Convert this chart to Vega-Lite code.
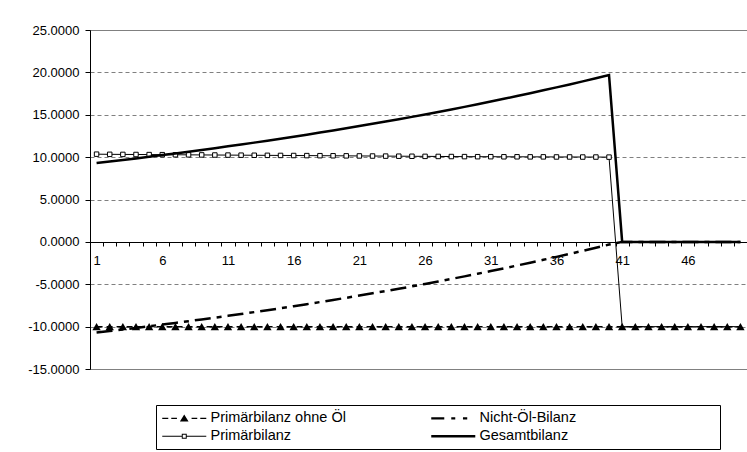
{
  "$schema": "https://vega.github.io/schema/vega-lite/v6.json",
  "width": 657,
  "height": 339,
  "autosize": "none",
  "padding": {"left": 90, "top": 30, "right": 0, "bottom": 83},
  "background": "white",
  "config": {
    "view": {"stroke": "#808080", "strokeWidth": 1},
    "font": "Liberation Sans"
  },
  "data": {
    "values": [
      {"t": 1, "a": -10, "b": -10.70, "c": 10.35, "d": 9.30},
      {"t": 2, "a": -10, "b": -10.52, "c": 10.33, "d": 9.48},
      {"t": 3, "a": -10, "b": -10.34, "c": 10.32, "d": 9.66},
      {"t": 4, "a": -10, "b": -10.15, "c": 10.31, "d": 9.85},
      {"t": 5, "a": -10, "b": -9.96, "c": 10.30, "d": 10.04},
      {"t": 6, "a": -10, "b": -9.76, "c": 10.29, "d": 10.24},
      {"t": 7, "a": -10, "b": -9.56, "c": 10.28, "d": 10.44},
      {"t": 8, "a": -10, "b": -9.36, "c": 10.27, "d": 10.64},
      {"t": 9, "a": -10, "b": -9.15, "c": 10.26, "d": 10.85},
      {"t": 10, "a": -10, "b": -8.94, "c": 10.25, "d": 11.06},
      {"t": 11, "a": -10, "b": -8.73, "c": 10.24, "d": 11.27},
      {"t": 12, "a": -10, "b": -8.51, "c": 10.23, "d": 11.49},
      {"t": 13, "a": -10, "b": -8.29, "c": 10.22, "d": 11.71},
      {"t": 14, "a": -10, "b": -8.06, "c": 10.21, "d": 11.94},
      {"t": 15, "a": -10, "b": -7.83, "c": 10.20, "d": 12.17},
      {"t": 16, "a": -10, "b": -7.59, "c": 10.19, "d": 12.41},
      {"t": 17, "a": -10, "b": -7.35, "c": 10.18, "d": 12.65},
      {"t": 18, "a": -10, "b": -7.10, "c": 10.17, "d": 12.90},
      {"t": 19, "a": -10, "b": -6.85, "c": 10.16, "d": 13.15},
      {"t": 20, "a": -10, "b": -6.60, "c": 10.15, "d": 13.40},
      {"t": 21, "a": -10, "b": -6.34, "c": 10.14, "d": 13.66},
      {"t": 22, "a": -10, "b": -6.07, "c": 10.13, "d": 13.93},
      {"t": 23, "a": -10, "b": -5.80, "c": 10.12, "d": 14.20},
      {"t": 24, "a": -10, "b": -5.53, "c": 10.11, "d": 14.47},
      {"t": 25, "a": -10, "b": -5.25, "c": 10.10, "d": 14.75},
      {"t": 26, "a": -10, "b": -4.96, "c": 10.09, "d": 15.04},
      {"t": 27, "a": -10, "b": -4.67, "c": 10.08, "d": 15.33},
      {"t": 28, "a": -10, "b": -4.37, "c": 10.07, "d": 15.63},
      {"t": 29, "a": -10, "b": -4.07, "c": 10.06, "d": 15.93},
      {"t": 30, "a": -10, "b": -3.76, "c": 10.05, "d": 16.24},
      {"t": 31, "a": -10, "b": -3.44, "c": 10.05, "d": 16.56},
      {"t": 32, "a": -10, "b": -3.12, "c": 10.04, "d": 16.88},
      {"t": 33, "a": -10, "b": -2.79, "c": 10.04, "d": 17.21},
      {"t": 34, "a": -10, "b": -2.46, "c": 10.03, "d": 17.54},
      {"t": 35, "a": -10, "b": -2.12, "c": 10.03, "d": 17.88},
      {"t": 36, "a": -10, "b": -1.77, "c": 10.02, "d": 18.23},
      {"t": 37, "a": -10, "b": -1.42, "c": 10.02, "d": 18.58},
      {"t": 38, "a": -10, "b": -1.06, "c": 10.01, "d": 18.94},
      {"t": 39, "a": -10, "b": -0.69, "c": 10.01, "d": 19.31},
      {"t": 40, "a": -10, "b": -0.32, "c": 10.00, "d": 19.68},
      {"t": 41, "a": -10, "b": 0, "c": -10, "d": 0},
      {"t": 42, "a": -10, "b": 0, "c": -10, "d": 0},
      {"t": 43, "a": -10, "b": 0, "c": -10, "d": 0},
      {"t": 44, "a": -10, "b": 0, "c": -10, "d": 0},
      {"t": 45, "a": -10, "b": 0, "c": -10, "d": 0},
      {"t": 46, "a": -10, "b": 0, "c": -10, "d": 0},
      {"t": 47, "a": -10, "b": 0, "c": -10, "d": 0},
      {"t": 48, "a": -10, "b": 0, "c": -10, "d": 0},
      {"t": 49, "a": -10, "b": 0, "c": -10, "d": 0},
      {"t": 50, "a": -10, "b": 0, "c": -10, "d": 0}
    ]
  },
  "encoding": {
    "x": {
      "field": "t",
      "type": "quantitative",
      "scale": {"domain": [0.5, 50.5], "nice": false, "zero": false},
      "axis": {
        "title": null,
        "values": [1,2,3,4,5,6,7,8,9,10,11,12,13,14,15,16,17,18,19,20,21,22,23,24,25,26,27,28,29,30,31,32,33,34,35,36,37,38,39,40,41,42,43,44,45,46,47,48,49,50],
        "offset": -127,
        "tickOffset": -6.57,
        "labelOffset": 6.57,
        "labelExpr": "(datum.value - 1) % 5 == 0 ? datum.label : ''",
        "format": "d",
        "tickSize": 4,
        "tickColor": "black",
        "domainColor": "black",
        "labelColor": "black",
        "labelFont": "Liberation Sans",
        "labelFontSize": 13,
        "labelPadding": 8,
        "labelFlush": false,
        "labelOverlap": false,
        "grid": false
      }
    }
  },
  "layer": [
    {
      "mark": {"type": "line", "color": "black", "strokeWidth": 1.5, "strokeDash": [6, 4]},
      "encoding": {
        "y": {
          "field": "a",
          "type": "quantitative",
          "title": null,
          "scale": {"domain": [-15, 25], "nice": false, "zero": false},
          "axis": {
            "title": null,
            "values": [-15, -10, -5, 0, 5, 10, 15, 20, 25],
            "labelExpr": "replace(format(datum.value, '.4f'), '\u2212', '-')",
            "tickSize": 5,
            "tickColor": "black",
            "domainColor": "black",
            "labelColor": "black",
            "labelFont": "Liberation Sans",
            "labelFontSize": 13,
            "labelPadding": 6,
            "grid": true,
            "gridDash": [4, 3],
            "gridColor": "#808080"
          }
        }
      }
    },
    {
      "mark": {"type": "point", "shape": "triangle-up", "filled": true, "color": "black", "size": 70, "opacity": 1},
      "encoding": {"y": {"field": "a", "type": "quantitative", "title": null}}
    },
    {
      "mark": {"type": "line", "color": "black", "strokeWidth": 2.5, "strokeDash": [16, 6, 5, 6]},
      "encoding": {"y": {"field": "b", "type": "quantitative", "title": null}}
    },
    {
      "mark": {"type": "line", "color": "black", "strokeWidth": 1},
      "encoding": {"y": {"field": "c", "type": "quantitative", "title": null}}
    },
    {
      "transform": [{"filter": "datum.t <= 40"}],
      "mark": {"type": "point", "shape": "square", "filled": true, "fill": "white", "stroke": "black", "strokeWidth": 1, "size": 20, "opacity": 1},
      "encoding": {"y": {"field": "c", "type": "quantitative", "title": null}}
    },
    {
      "mark": {"type": "line", "color": "black", "strokeWidth": 2.5},
      "encoding": {"y": {"field": "d", "type": "quantitative", "title": null}}
    },
    {
      "data": {
        "values": [
          {"s": "Primärbilanz ohne Öl"},
          {"s": "Nicht-Öl-Bilanz"},
          {"s": "Primärbilanz"},
          {"s": "Gesamtbilanz"}
        ]
      },
      "transform": [{"filter": "false"}],
      "mark": {"type": "point", "filled": true, "color": "black", "opacity": 1},
      "encoding": {
        "shape": {
          "field": "s",
          "type": "nominal",
          "scale": {
            "domain": ["Primärbilanz ohne Öl", "Nicht-Öl-Bilanz", "Primärbilanz", "Gesamtbilanz"],
            "range": [
              "M-1,-0.1H-0.14V0.1H-1ZM0.29,-0.1H1.1V0.1H0.29ZM3.19,-0.1H4V0.1H3.19ZM4.43,-0.1H5.29V0.1H4.43ZM1.52,0.45L2.14,-0.55L2.76,0.45Z",
              "M-1,-0.17H0.86V0.17H-1ZM1.86,-0.17H2.43V0.17H1.86ZM3.53,-0.17H4.14V0.17H3.53Z",
              "M-1,-0.07H1.79V0.07H-1ZM2.5,-0.07H5.29V0.07H2.5ZM1.79,-0.36H2.5V0.36H1.79ZM1.93,-0.22V0.22H2.36V-0.22Z",
              "M-1,-0.17H5.29V0.17H-1Z"
            ]
          },
          "legend": {
            "orient": "none",
            "legendX": 66,
            "legendY": 375,
            "direction": "horizontal",
            "columns": 2,
            "columnPadding": 85,
            "rowPadding": 3,
            "padding": 6,
            "strokeColor": "black",
            "fillColor": "white",
            "symbolSize": 196,
            "symbolStrokeWidth": 0,
            "labelFont": "Liberation Sans",
            "labelFontSize": 14.5,
            "labelColor": "black",
            "labelOffset": 34,
            "labelLimit": 0,
            "title": " ",
            "titleOrient": "right",
            "titlePadding": 138
          }
        }
      }
    }
  ]
}
